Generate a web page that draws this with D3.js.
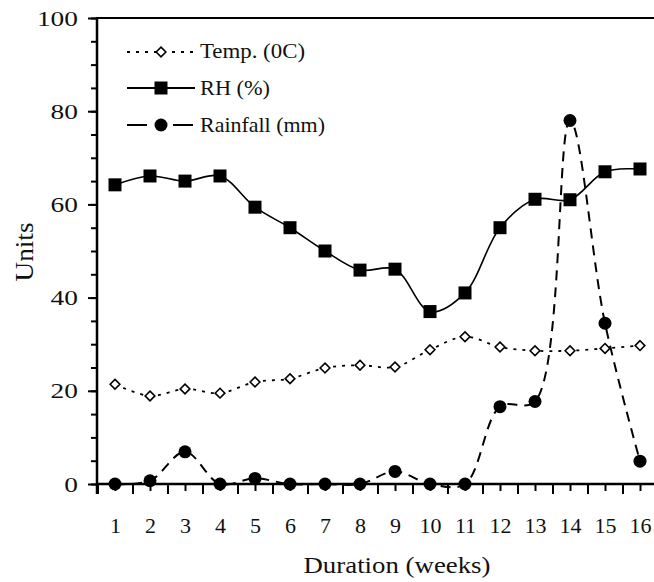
<!DOCTYPE html>
<html>
<head>
<meta charset="utf-8">
<script src="https://cdn.jsdelivr.net/npm/d3@7"></script>
<style>
body { margin: 0; background: #fff; }
</style>
</head>
<body>
<svg id="chart" width="654" height="582"></svg>
<script>
let weeks = [1, 2, 3, 4, 5, 6, 7, 8, 9, 10, 11, 12, 13, 14, 15, 16];
let temp = [21.4, 18.9, 20.4, 19.5, 21.9, 22.6, 24.9, 25.5, 25.1, 28.8, 31.6, 29.4, 28.6, 28.6, 29.1, 29.7];
let rh = [64.2, 66.1, 65, 66.1, 59.4, 55, 50, 45.9, 46.1, 37, 41, 55, 61.1, 61, 67, 67.6];
let rain = [0, 0.7, 6.9, 0, 1.2, 0, 0, 0, 2.7, 0, 0, 16.6, 17.7, 78, 34.5, 4.9];
let yTicks = [0, 20, 40, 60, 80, 100];

let fontfamily = "Liberation Serif";

let svg = d3.select("#chart");

let x = d3.scaleLinear().domain([0.5, 16.5]).range([97.5, 657.5]);
let y = d3.scaleLinear().domain([0, 100]).range([484, 18]);

// y axis: major ticks with labels, minor every 5
let yAxis = svg.append("g").attr("transform", "translate(97,0)");
yAxis.call(d3.axisLeft(y).tickValues(d3.range(0, 101, 5)).tickSize(6).tickFormat(""));
yAxis.call(g => g.select(".domain").remove());
yAxis.selectAll(".tick line").attr("stroke", "#000").attr("stroke-width", 2);

let yMajor = svg.append("g").attr("transform", "translate(97,0)");
yMajor.call(d3.axisLeft(y).tickValues(yTicks).tickSize(9).tickPadding(10));
yMajor.attr("font-family", fontfamily);
yMajor.call(g => g.select(".domain").remove());
yMajor.selectAll(".tick line").attr("stroke", "#000").attr("stroke-width", 2);
// the labels in the picture are wider than plain serif digits
yMajor.selectAll(".tick text")
	.attr("font-family", fontfamily)
	.attr("font-size", "22px")
	.attr("textLength", d => String(d).length * 13.7)
	.attr("lengthAdjust", "spacingAndGlyphs")
	.attr("fill", "#111");

// x axis: long ticks between weeks, short ticks at weeks
let xAxis = svg.append("g").attr("transform", "translate(0,484)");
xAxis.call(d3.axisBottom(x).tickValues(d3.range(0.5, 17, 1)).tickSize(10).tickFormat(""));
xAxis.call(g => g.select(".domain").remove());
xAxis.selectAll(".tick line").attr("stroke", "#000").attr("stroke-width", 2);

let xMinor = svg.append("g").attr("transform", "translate(0,484)");
xMinor.call(d3.axisBottom(x).tickValues(weeks).tickSize(7).tickPadding(26).tickFormat(d3.format("d")));
xMinor.attr("font-family", fontfamily);
xMinor.call(g => g.select(".domain").remove());
xMinor.selectAll(".tick line").attr("stroke", "#000").attr("stroke-width", 2);
xMinor.selectAll(".tick text")
	.attr("font-family", fontfamily)
	.attr("font-size", "22px")
	.attr("fill", "#111");

// frame lines
svg.append("line")
	.attr("x1", 97).attr("x2", 654)
	.attr("y1", y(0)).attr("y2", y(0))
	.attr("stroke", "#000").attr("stroke-width", 2.5);
svg.append("line")
	.attr("x1", 97).attr("x2", 97)
	.attr("y1", y(100) - 1).attr("y2", y(0) + 10)
	.attr("stroke", "#000").attr("stroke-width", 2.5);
svg.append("line")
	.attr("x1", 96).attr("x2", 654)
	.attr("y1", y(100)).attr("y2", y(100))
	.attr("stroke", "#000").attr("stroke-width", 2);

// axis titles
svg.append("text")
	.attr("transform", "translate(33,252) rotate(-90)")
	.attr("text-anchor", "middle")
	.attr("font-family", fontfamily)
	.attr("font-size", "25px")
	.attr("textLength", 59)
	.attr("lengthAdjust", "spacingAndGlyphs")
	.attr("fill", "#111")
	.text("Units");

svg.append("text")
	.attr("x", 397)
	.attr("y", 573)
	.attr("text-anchor", "middle")
	.attr("font-family", fontfamily)
	.attr("font-size", "23px")
	.attr("textLength", 187)
	.attr("lengthAdjust", "spacingAndGlyphs")
	.attr("fill", "#111")
	.text("Duration (weeks)");

let curve = d3.curveCatmullRom;

function lineFor(values) {
	return d3.line()
		.x((d, i) => x(weeks[i]))
		.y(d => y(d))
		.curve(curve)(values);
}

// temperature, dotted with open diamonds
svg.append("path")
	.attr("d", lineFor(temp))
	.attr("fill", "none")
	.attr("stroke", "#000")
	.attr("stroke-width", 1.8)
	.attr("stroke-dasharray", "3,6");

// RH, solid with squares
svg.append("path")
	.attr("d", lineFor(rh))
	.attr("fill", "none")
	.attr("stroke", "#000")
	.attr("stroke-width", 1.6);

// rainfall, dashed with dots
svg.append("path")
	.attr("d", lineFor(rain))
	.attr("fill", "none")
	.attr("stroke", "#000")
	.attr("stroke-width", 2)
	.attr("stroke-dasharray", "10,7");

let diamond = d3.symbol().type(d3.symbolDiamond2).size(60);

svg.selectAll(".temp")
	.data(temp).enter()
	.append("path")
	.attr("class", "temp")
	.attr("transform", (d, i) => "translate(" + x(weeks[i]) + "," + y(d) + ")")
	.attr("d", diamond)
	.attr("fill", "#fff")
	.attr("stroke", "#000")
	.attr("stroke-width", 1.6);

svg.selectAll(".rh")
	.data(rh).enter()
	.append("rect")
	.attr("class", "rh")
	.attr("x", (d, i) => x(weeks[i]) - 6.5)
	.attr("y", d => y(d) - 6.5)
	.attr("width", 13)
	.attr("height", 13)
	.attr("fill", "#000");

svg.selectAll(".rain")
	.data(rain).enter()
	.append("circle")
	.attr("class", "rain")
	.attr("cx", (d, i) => x(weeks[i]))
	.attr("cy", d => y(d))
	.attr("r", 6.5)
	.attr("fill", "#000");

// legend
let legendItems = ["Temp. (0C)", "RH (%)", "Rainfall (mm)"];
let legendWidths = [105, 70, 125];
let legendY = [52, 88, 125];

let lg = svg.append("g");

lg.append("line")
	.attr("x1", 127).attr("x2", 195)
	.attr("y1", legendY[0]).attr("y2", legendY[0])
	.attr("stroke", "#000").attr("stroke-width", 1.8)
	.attr("stroke-dasharray", "3,6");
lg.append("path")
	.attr("transform", "translate(161," + legendY[0] + ")")
	.attr("d", diamond)
	.attr("fill", "#fff").attr("stroke", "#000").attr("stroke-width", 1.6);

lg.append("line")
	.attr("x1", 127).attr("x2", 195)
	.attr("y1", legendY[1]).attr("y2", legendY[1])
	.attr("stroke", "#000").attr("stroke-width", 1.8);
lg.append("rect")
	.attr("x", 161 - 6.5).attr("y", legendY[1] - 6.5)
	.attr("width", 13).attr("height", 13)
	.attr("fill", "#000");

lg.append("line")
	.attr("x1", 127).attr("x2", 193)
	.attr("y1", legendY[2]).attr("y2", legendY[2])
	.attr("stroke", "#000").attr("stroke-width", 2)
	.attr("stroke-dasharray", "20,26");
lg.append("circle")
	.attr("cx", 161).attr("cy", legendY[2])
	.attr("r", 6.5)
	.attr("fill", "#000");

lg.selectAll("text")
	.data(legendItems).enter()
	.append("text")
	.attr("x", 200)
	.attr("y", (d, i) => legendY[i] + (i == 0 ? 6 : 7))
	.attr("font-family", fontfamily)
	.attr("font-size", "21px")
	.attr("textLength", (d, i) => legendWidths[i])
	.attr("lengthAdjust", "spacingAndGlyphs")
	.attr("fill", "#111")
	.text(d => d);
</script>
</body>
</html>
